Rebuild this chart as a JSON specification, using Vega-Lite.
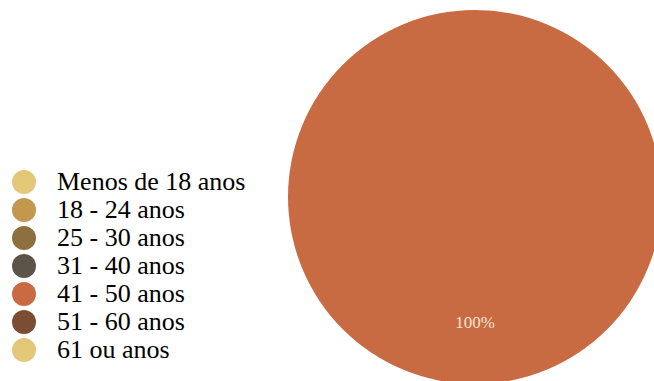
{
  "$schema": "https://vega.github.io/schema/vega-lite/v6.json",
  "width": 654,
  "height": 381,
  "padding": 0,
  "autosize": {"type": "none"},
  "background": "white",
  "config": {
    "view": {"stroke": null},
    "font": "Liberation Serif",
    "legend": {"labelFont": "Liberation Serif", "labelFontSize": 26}
  },
  "data": {
    "values": [
      {"faixa": "Menos de 18 anos", "valor": 0, "rotulo": "0%"},
      {"faixa": "18 - 24 anos", "valor": 0, "rotulo": "0%"},
      {"faixa": "25 - 30 anos", "valor": 0, "rotulo": "0%"},
      {"faixa": "31 - 40 anos", "valor": 0, "rotulo": "0%"},
      {"faixa": "41 - 50 anos", "valor": 100, "rotulo": "100%"},
      {"faixa": "51 - 60 anos", "valor": 0, "rotulo": "0%"},
      {"faixa": "61 ou anos", "valor": 0, "rotulo": "0%"}
    ]
  },
  "encoding": {
    "theta": {"field": "valor", "type": "quantitative", "stack": true},
    "color": {
      "field": "faixa",
      "type": "nominal",
      "sort": null,
      "scale": {
        "domain": ["Menos de 18 anos", "18 - 24 anos", "25 - 30 anos", "31 - 40 anos", "41 - 50 anos", "51 - 60 anos", "61 ou anos"],
        "range": ["#E2C878", "#C4974E", "#8E7040", "#5C5449", "#C86B43", "#7B4E33", "#E2C878"]
      },
      "legend": {
        "title": null,
        "orient": "none",
        "legendX": 11,
        "legendY": 169,
        "symbolType": "circle",
        "symbolSize": 576,
        "symbolStrokeWidth": 0,
        "symbolOpacity": 1,
        "labelColor": "#000000",
        "labelOffset": 20,
        "rowPadding": 2,
        "labelLimit": 400
      }
    },
    "x": {"value": 475},
    "y": {"value": 197}
  },
  "layer": [
    {
      "mark": {"type": "arc", "radius": 187, "strokeWidth": 0}
    },
    {
      "transform": [{"filter": "datum.valor > 0"}],
      "mark": {"type": "text", "radius": 126, "fontSize": 17, "baseline": "middle"},
      "encoding": {
        "text": {"field": "rotulo", "type": "nominal"},
        "color": {"value": "#F3E3D6"}
      }
    }
  ]
}
